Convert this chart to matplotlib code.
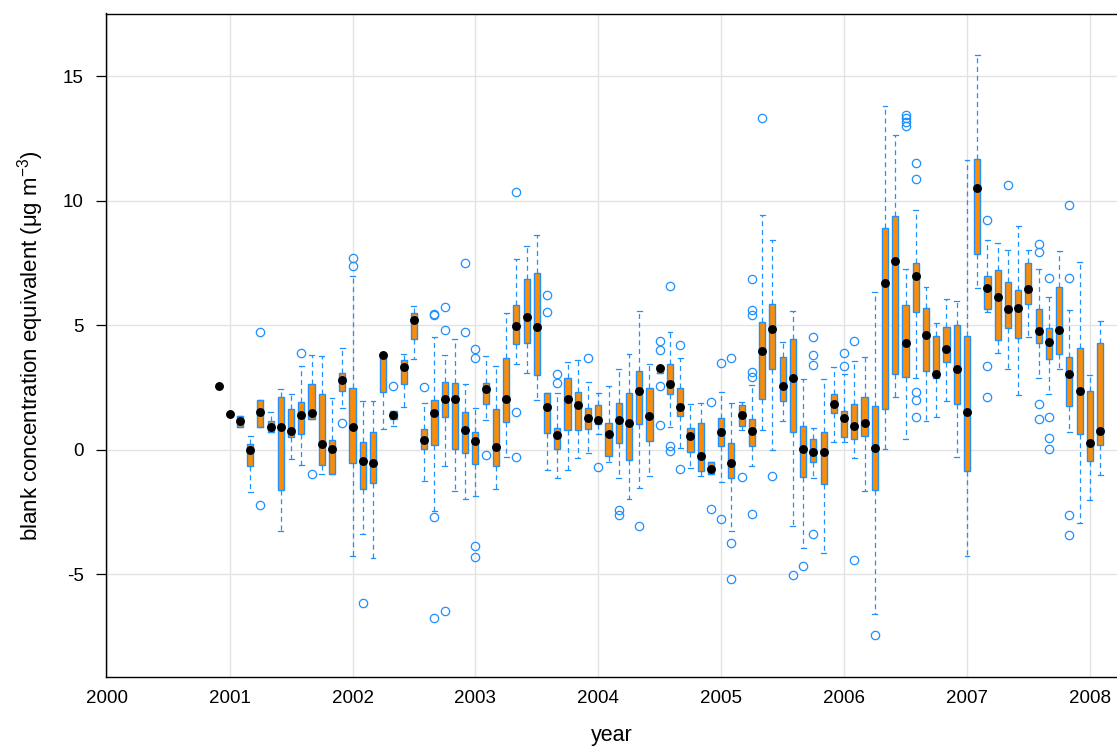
import matplotlib
matplotlib.use("Agg")
import matplotlib.pyplot as plt
import pandas as pd

plt.rcParams['font.family'] = ['Liberation Sans', 'DejaVu Sans']
plt.rcParams['mathtext.fontset'] = 'custom'
plt.rcParams['mathtext.rm'] = 'Liberation Sans'
plt.rcParams['mathtext.it'] = 'Liberation Sans'
plt.rcParams['axes.unicode_minus'] = False

# monthly boxes, Dec 2000 .. Feb 2008
months = pd.period_range('2000-12', '2008-02', freq='M')

med = [2.57,
       1.44, 1.17, 0.01, 1.52, 0.93, 0.93, 0.76, 1.39, 1.48, 0.25, 0.05, 2.79,
       0.91, -0.45, -0.51, 3.83, 1.39, 3.35, 5.20, 0.39, 1.48, 2.03, 2.03, 0.81,
       0.37, 2.46, 0.12, 2.03, 4.98, 5.33, 4.92, 1.71, 0.61, 2.03, 1.80, 1.28,
       1.21, 0.63, 1.19, 1.07, 2.36, 1.36, 3.31, 2.66, 1.74, 0.57, -0.23, -0.77,
       0.71, -0.51, 1.40, 0.76, 3.98, 4.85, 2.57, 2.90, 0.05, -0.08, -0.08, 1.84,
       1.30, 0.95, 1.07, 0.06, 6.72, 7.57, 4.30, 6.98, 4.62, 3.07, 4.06, 3.25,
       1.51, 10.52, 6.52, 6.13, 5.68, 5.70, 6.45, 4.77, 4.32, 4.81, 3.05, 2.38,
       0.27, 0.77]

q1 = [2.57,
      1.44, 0.93, -0.64, 0.93, 0.74, -1.60, 0.51, 0.64, 1.23, -0.61, -0.96, 2.35,
      -0.53, -1.56, -1.31, 2.31, 1.25, 2.65, 4.44, 0.03, 0.19, 1.31, 0.03, -0.13,
      -0.56, 1.84, -0.63, 1.13, 4.26, 4.28, 3.03, 0.67, 0.03, 0.80, 0.80, 0.84,
      1.03, -0.24, 0.29, -0.40, 1.04, 0.36, 3.10, 2.23, 1.37, -0.07, -0.83, -0.96,
      0.16, -1.11, 0.97, 0.16, 2.03, 3.27, 1.98, 0.71, -1.10, -0.49, -1.36, 1.47,
      0.51, 0.42, 0.57, -1.61, 1.65, 3.07, 2.94, 5.56, 3.18, 2.87, 3.53, 1.85,
      -0.83, 7.86, 5.68, 4.41, 4.88, 4.50, 5.85, 4.28, 3.67, 3.85, 1.76, 0.63,
      -0.43, 0.20]

q3 = [2.57,
      1.44, 1.36, 0.23, 2.00, 1.18, 2.11, 1.63, 1.94, 2.63, 2.23, 0.41, 3.11,
      2.50, 0.31, 0.74, 3.83, 1.55, 3.61, 5.52, 0.84, 2.00, 2.73, 2.67, 1.51,
      0.74, 2.67, 1.63, 3.70, 5.84, 6.88, 7.12, 2.27, 0.89, 2.90, 2.34, 1.70,
      1.80, 1.07, 1.90, 2.27, 3.17, 2.50, 3.37, 3.47, 2.50, 0.89, 1.07, -0.49,
      1.27, 0.29, 1.80, 1.23, 5.14, 5.88, 3.72, 4.44, 0.97, 0.43, 0.74, 2.23,
      1.58, 1.85, 2.12, 1.77, 8.90, 9.40, 5.83, 7.50, 5.70, 4.58, 4.94, 5.00,
      4.58, 11.70, 6.97, 7.24, 6.75, 6.41, 7.51, 5.68, 4.88, 6.55, 3.72, 4.10,
      2.38, 4.28]

whislo = [2.57,
          1.44, 0.93, -1.70, 0.93, 0.74, -3.26, -0.37, -0.61, 1.23, -0.96, -0.96, 1.70,
          -4.28, -3.39, -4.34, 0.86, 0.96, 1.74, 3.67, -1.23, -2.47, -0.63, -1.66, -1.96,
          -1.83, 1.20, -1.56, -0.29, 3.45, 3.11, 2.00, -0.80, -1.14, -0.80, -0.33, -0.13,
          0.64, -0.47, -1.14, -1.96, -1.51, -1.04, 3.10, 0.91, 0.09, -0.71, -1.03, -0.96,
          -1.29, -3.25, 0.80, -0.63, 0.80, 0.00, 1.18, -3.07, -3.94, -1.14, -4.14, 0.33,
          0.33, -0.33, -1.63, -6.60, 0.03, 2.13, 0.42, 2.90, 1.18, 1.31, 1.96, -0.30,
          -4.28, 6.52, 5.54, 3.88, 3.25, 2.20, 4.54, 2.90, 2.23, 3.25, 0.71, -2.94,
          -2.00, -1.00]

whishi = [2.57,
          1.44, 1.36, 0.57, 2.00, 1.51, 2.44, 2.23, 3.38, 3.83, 3.77, 2.07, 4.08,
          6.97, 1.96, 1.96, 3.83, 1.55, 3.85, 5.78, 1.87, 4.52, 3.83, 4.44, 2.63,
          1.70, 3.77, 3.38, 5.52, 7.68, 8.20, 8.62, 2.27, 2.27, 3.54, 3.63, 2.74,
          2.30, 2.57, 3.25, 3.85, 5.58, 3.47, 3.37, 4.74, 3.70, 1.84, 1.87, -0.49,
          2.31, 1.90, 1.94, 2.61, 9.45, 8.42, 4.34, 5.60, 2.83, 0.87, 2.83, 3.34,
          3.07, 3.57, 3.72, 6.34, 13.81, 12.64, 7.28, 9.62, 6.56, 5.09, 6.05, 5.98,
          11.63, 15.85, 8.44, 8.31, 8.02, 9.01, 8.02, 7.28, 6.13, 7.98, 5.61, 7.55,
          3.03, 5.18]

outliers = {
    '2001-04': [4.74, -2.20], '2001-08': [3.89], '2001-09': [-0.96],
    '2001-12': [1.07], '2002-01': [7.72, 7.37], '2002-02': [-6.15],
    '2002-05': [2.57], '2002-08': [2.51], '2002-09': [5.45, 5.40, -2.71, -6.75],
    '2002-10': [5.76, 4.81, -6.48], '2002-12': [7.52, 4.72],
    '2003-01': [4.05, 3.70, -3.85, -4.32], '2003-02': [-0.20],
    '2003-05': [10.35, 1.54, -0.29], '2003-08': [6.21, 5.54],
    '2003-09': [3.07, 2.67], '2003-12': [3.71], '2004-01': [-0.68],
    '2004-03': [-2.40, -2.61], '2004-05': [-3.07],
    '2004-07': [4.37, 4.00, 2.57, 1.00], '2004-08': [6.59, 0.17, -0.03],
    '2004-09': [4.21, -0.77], '2004-12': [1.91, -2.38],
    '2005-01': [3.51, -2.78], '2005-02': [3.70, -3.74, -5.17],
    '2005-03': [-1.07], '2005-04': [6.85, 5.64, 5.41, 3.14, 2.91, -2.58],
    '2005-05': [13.33], '2005-06': [-1.03], '2005-08': [-5.01],
    '2005-09': [-4.68], '2005-10': [4.54, 3.83, 3.41, -3.37],
    '2006-01': [3.90, 3.38], '2006-02': [4.38, -4.43], '2006-04': [-7.43],
    '2006-07': [13.47, 13.32, 13.16, 13.00],
    '2006-08': [11.52, 10.87, 2.32, 2.01, 1.31],
    '2007-03': [9.22, 3.38, 2.14], '2007-05': [10.66],
    '2007-08': [8.26, 7.95, 1.83, 1.24], '2007-09': [6.91, 1.34, 0.47, 0.03],
    '2007-11': [9.85, 6.91, -2.61, -3.41],
}

year_ticks = [2000, 2001, 2002, 2003, 2004, 2005, 2006, 2007, 2008]
y_ticks = [-5, 0, 5, 10, 15]

orange = '#FF8C00'
blue = '#1E90FF'

pos = [m.year + (m.month - 1) / 12 for m in months]
stats = []
for i, m in enumerate(months):
    stats.append(dict(med=med[i], q1=q1[i], q3=q3[i], whislo=whislo[i],
                      whishi=whishi[i], fliers=outliers.get(str(m), [])))

fig = plt.figure(figsize=(11.17, 7.47), dpi=100)
ax = fig.add_axes([105.5 / 1117, 70 / 747, 1012 / 1117, 663.5 / 747])

ax.grid(True, color='#e3e3e3', linewidth=1.0)
ax.set_axisbelow(True)

ax.bxp(stats, positions=pos, widths=0.05, capwidths=0.04, patch_artist=True,
       manage_ticks=False,
       boxprops=dict(facecolor=orange, edgecolor=blue, linewidth=1.0),
       whiskerprops=dict(color=blue, linewidth=0.9, linestyle=(0, (4, 3))),
       capprops=dict(color=blue, linewidth=0.9),
       medianprops=dict(color='black', linewidth=1.2),
       flierprops=dict(marker='o', markerfacecolor='none', markeredgecolor=blue,
                       markersize=6, markeredgewidth=0.9))
ax.plot(pos, med, 'o', color='black', markersize=5.4, zorder=5)

ax.set_xlim(1999.99, 2008.225)
ax.set_ylim(-9.12, 17.53)
ax.set_xticks(year_ticks)
ax.set_yticks(y_ticks)
ax.tick_params(axis='x', length=0, pad=9.5, labelsize=13.5)
ax.tick_params(axis='y', length=7.2, width=0.9, pad=8.5, labelsize=13.5)

for s in ['left', 'bottom', 'top']:
    ax.spines[s].set_linewidth(1.0)
ax.spines['right'].set_visible(False)

ax.set_xlabel('year', fontsize=15.5)
ax.xaxis.set_label_coords(0.5, -0.096)
ax.xaxis.label.set_va('baseline')
ax.set_ylabel(r'blank concentration equivalent (μg m$^{-3}$)', fontsize=16)
ax.yaxis.set_label_coords(-0.0667, 0.5)
ax.yaxis.label.set_va('baseline')

fig.savefig('out.png', dpi=100)
